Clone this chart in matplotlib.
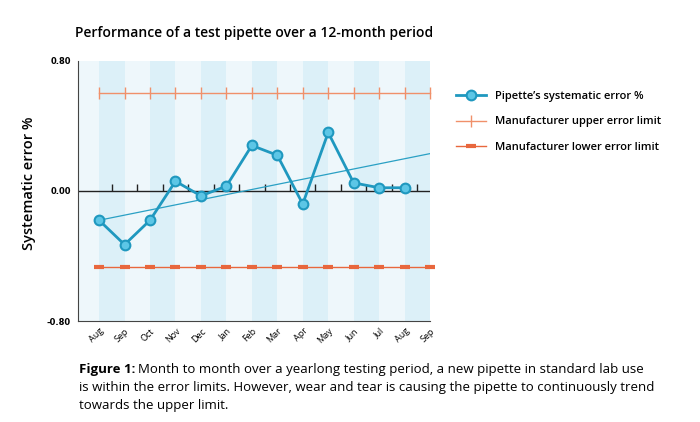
import matplotlib
matplotlib.use('Agg')
import matplotlib.pyplot as plt
from matplotlib.lines import Line2D
import numpy as np

plt.rcParams['font.family'] = ['Open Sans', 'DejaVu Sans']

# Data
months = ['Aug', 'Sep', 'Oct', 'Nov', 'Dec', 'Jan', 'Feb', 'Mar', 'Apr',
          'May', 'Jun', 'Jul', 'Aug', 'Sep']
error_pct = [-0.18, -0.33, -0.18, 0.06, -0.03, 0.03, 0.28, 0.22, -0.08,
             0.36, 0.05, 0.02, 0.02]
upper_limit = 0.60
lower_limit = -0.47
trend_ends = [-0.18, 0.23]

x_all = np.arange(len(months))
x_err = np.arange(len(error_pct))

blue = '#1f98bf'
blue_face = '#5cc6e6'
orange_up = '#f0906a'
orange_lo = '#e8673d'

fig = plt.figure(figsize=(7, 4.22), dpi=100)
ax = fig.add_axes([0.1114, 0.2393, 0.5029, 0.6162])

# alternating column bands
ax.set_facecolor('#eef7fb')
for i in range(0, len(months) - 1, 2):
    ax.axvspan(x_all[i], x_all[i + 1], color='#dcf0f8', lw=0, zorder=0)

# zero line with small upward ticks between months
ax.axhline(0, color='#222222', lw=1, zorder=2)
ax.plot(x_all[:-1] + 0.5, np.zeros(len(months) - 1), linestyle='none',
        marker=2, markersize=5, markeredgewidth=1, color='#222222', zorder=2)

# limits
ax.plot(x_all, [upper_limit] * len(months), color=orange_up, lw=1,
        marker='|', markersize=8, markeredgewidth=1, clip_on=False, zorder=3)
ax.plot(x_all, [lower_limit] * len(months), color=orange_lo, lw=1,
        marker='_', markersize=7, markeredgewidth=3, clip_on=False, zorder=3)

# trend line
ax.plot([x_all[0], x_all[-1]], trend_ends, color='#2aa0c4', lw=0.9, zorder=4)

# measured error
ax.plot(x_err, error_pct, color=blue, lw=2, marker='o', markersize=7,
        markerfacecolor=blue_face, markeredgecolor=blue, markeredgewidth=1.5,
        zorder=5)

ax.set_xlim(-0.83, 13.0)
ax.set_ylim(-0.8, 0.8)
ax.set_yticks([-0.8, 0, 0.8])
ax.set_yticklabels(['-0.80', '0.00', '0.80'], fontsize=6, fontweight='bold',
                   family=['DejaVu Sans'])
ax.set_xticks(x_all)
ax.set_xticklabels(months, rotation=45, ha='right', fontsize=6.5,
                   rotation_mode='anchor')
ax.tick_params(axis='both', length=0, pad=5)
ax.tick_params(axis='x', pad=4)

for s in ['top', 'right']:
    ax.spines[s].set_visible(False)
ax.spines['left'].set_color('#444444')
ax.spines['bottom'].set_color('#444444')

ax.set_ylabel('Systematic error %', fontsize=10.5, fontweight='semibold')
ax.yaxis.set_label_coords(-0.118, 0.53)
ax.set_title('Performance of a test pipette over a 12-month period',
             fontsize=10, fontweight='semibold', pad=17)

handles = [
    Line2D([], [], color=blue, lw=2, marker='o', markersize=7,
           markerfacecolor=blue_face, markeredgecolor=blue, markeredgewidth=1.5),
    Line2D([], [], color=orange_up, lw=1, marker='|', markersize=8),
    Line2D([], [], color=orange_lo, lw=1, marker='_', markersize=7,
           markeredgewidth=3),
]
labels = ["Pipette\u2019s systematic error %",
          'Manufacturer upper error limit',
          'Manufacturer lower error limit']
fig.legend(handles, labels, loc='upper left', bbox_to_anchor=(0.637, 0.808),
           frameon=False, handlelength=2.7, labelspacing=1.3,
           prop={'weight': 'semibold', 'size': 8})

# caption
fig.canvas.draw()
renderer = fig.canvas.get_renderer()
cap_x = 79 / 700
cap_y = 1 - 369 / 422
t = fig.text(cap_x, cap_y, 'Figure 1:', fontsize=9.5, fontweight='bold',
             va='center')
bb = t.get_window_extent(renderer)
fig.text(bb.x1 / fig.bbox.width + 0.004, cap_y,
         'Month to month over a yearlong testing period, a new pipette in standard lab use',
         fontsize=9.5, va='center')
fig.text(cap_x, cap_y - 18 / 422,
         'is within the error limits. However, wear and tear is causing the pipette to continuously trend',
         fontsize=9.5, va='center')
fig.text(cap_x, cap_y - 36 / 422, 'towards the upper limit.',
         fontsize=9.5, va='center')

fig.savefig('out.png', dpi=100)
